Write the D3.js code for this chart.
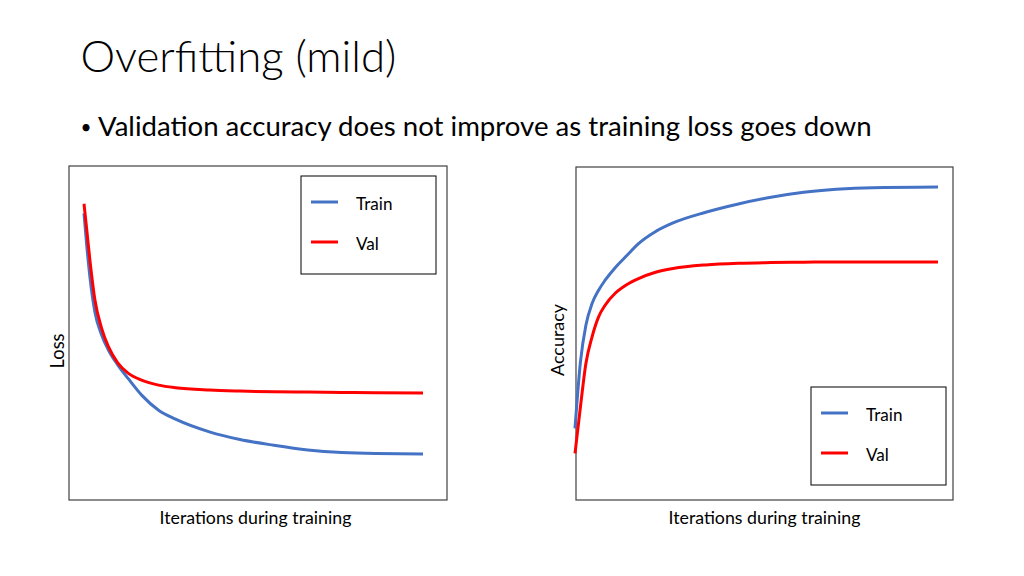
<!DOCTYPE html>
<html>
<head>
<meta charset="utf-8">
<script src="https://cdn.jsdelivr.net/npm/d3@7"></script>
<style>
  body { margin: 0; background: #fff; }
  svg { display: block; font-family: Lato, "Open Sans", sans-serif; }
</style>
</head>
<body>
<div class="canvas"></div>
<script>

// DATA (arbitrary units 0..1)

var seriesNames = ["Train", "Val"];
var seriesColors = ["#4472C4", "#FF0000"];

var lossIter  = [0, 0.8, 1.8, 3.2, 5.2, 7.2, 10, 13, 17, 22, 27, 37, 46, 56, 66, 76, 86, 100];
var lossTrain = [0.858, 0.763, 0.663, 0.564, 0.494, 0.449, 0.404, 0.364, 0.314, 0.269, 0.242, 0.204, 0.181, 0.164, 0.150, 0.142, 0.139, 0.138];
var lossVal   = [0.887, 0.81, 0.713, 0.60, 0.514, 0.459, 0.41, 0.38, 0.359, 0.344, 0.336, 0.329, 0.326, 0.324, 0.323, 0.322, 0.321, 0.32];

var accIter  = [0, 1.5, 3, 4.7, 6.5, 8.3, 11, 14, 17.5, 22, 27, 36, 45, 54, 63, 72, 82, 100];
var accTrain = [0.215, 0.415, 0.525, 0.59, 0.63, 0.66, 0.697, 0.731, 0.77, 0.805, 0.832, 0.864, 0.889, 0.909, 0.924, 0.933, 0.938, 0.94];
var accVal   = [0.14, 0.28, 0.41, 0.49, 0.55, 0.585, 0.62, 0.645, 0.665, 0.683, 0.695, 0.706, 0.711, 0.713, 0.714, 0.715, 0.715, 0.715];


var svg = d3.select(".canvas")
			.append("svg")
			.attr("width", 1024)
			.attr("height", 576);

// scale font size so the text spans the wanted width
function fit(sel, width) {
	var size = +sel.attr("font-size");
	var w = sel.node().getComputedTextLength();
	sel.attr("font-size", size * width / w);
	return sel;
}


// TITLE

fit(svg.append("text")
	.attr("x", 80.5)
	.attr("y", 72)
	.attr("font-size", 44)
	.attr("font-weight", 300)
	.attr("fill", "#000")
	.text("Overfitting (mild)"), 316);

svg.append("text")
	.attr("x", 80.5)
	.attr("y", 134)
	.attr("font-size", 19)
	.attr("fill", "#000")
	.text("\u2022");

fit(svg.append("text")
	.attr("x", 98)
	.attr("y", 136)
	.attr("font-size", 28)
	.attr("fill", "#000")
	.text("Validation accuracy does not improve as training loss goes down"), 774);


// PANELS

var panels = [
	{
		box: {x0: 69, y0: 166, x1: 447, y1: 500},
		curveX: [84, 423],
		iter: lossIter,
		series: [lossTrain, lossVal],
		ylabel: "Loss", ylabelX: 64, ylabelY: 351, ylabelW: 35,
		xlabelX: 159.5, xlabelW: 192,
		legend: {x: 301, y: 176, w: 135, h: 98}
	},
	{
		box: {x0: 576, y0: 167, x1: 953, y1: 500},
		curveX: [575, 938],
		iter: accIter,
		series: [accTrain, accVal],
		ylabel: "Accuracy", ylabelX: 563.5, ylabelY: 340, ylabelW: 72,
		xlabelX: 668.5, xlabelW: 192,
		legend: {x: 811, y: 387, w: 135, h: 98}
	}
];

panels.forEach(function(p){

	var x = d3.scaleLinear()
			  .domain([0, 100])
			  .range(p.curveX);

	var y = d3.scaleLinear()
			  .domain([0, 1])
			  .range([p.box.y1, p.box.y0]);

	svg.append("rect")
		.attr("x", p.box.x0)
		.attr("y", p.box.y0)
		.attr("width", p.box.x1 - p.box.x0)
		.attr("height", p.box.y1 - p.box.y0)
		.attr("fill", "none")
		.attr("stroke", "#404040")
		.attr("stroke-width", 1.2);

	var line = d3.line()
				 .x(function(d){ return x(d[0]); })
				 .y(function(d){ return y(d[1]); })
				 .curve(d3.curveMonotoneX);

	// val drawn last, on top
	p.series.forEach(function(vals, i){
		svg.append("path")
			.datum(d3.zip(p.iter, vals))
			.attr("d", line)
			.attr("fill", "none")
			.attr("stroke", seriesColors[i])
			.attr("stroke-width", 3)
			.attr("stroke-linecap", "butt");
	});

	// axis labels
	fit(svg.append("text")
		.attr("transform", "translate(" + p.ylabelX + "," + p.ylabelY + ") rotate(-90)")
		.attr("text-anchor", "middle")
		.attr("font-size", 18)
		.attr("fill", "#000")
		.text(p.ylabel), p.ylabelW);

	fit(svg.append("text")
		.attr("x", p.xlabelX)
		.attr("y", 523.5)
		.attr("font-size", 18)
		.attr("fill", "#000")
		.text("Iterations during training"), p.xlabelW);

	// legend
	var lg = svg.append("g")
				.attr("transform", "translate(" + p.legend.x + "," + p.legend.y + ")");

	lg.append("rect")
		.attr("width", p.legend.w)
		.attr("height", p.legend.h)
		.attr("fill", "#fff")
		.attr("stroke", "#000")
		.attr("stroke-width", 1);

	seriesNames.forEach(function(name, i){
		var ly = 26 + i * 40;
		lg.append("line")
			.attr("x1", 10)
			.attr("x2", 37)
			.attr("y1", ly)
			.attr("y2", ly)
			.attr("stroke", seriesColors[i])
			.attr("stroke-width", 3);

		var t = lg.append("text")
			.attr("x", 55)
			.attr("y", ly + 8)
			.attr("font-size", 16)
			.attr("fill", "#000")
			.text(name);
		if (i == 0) fit(t, 36.5);
		else t.attr("font-size", lg.select("text").attr("font-size"));
	});
});

</script>
</body>
</html>
